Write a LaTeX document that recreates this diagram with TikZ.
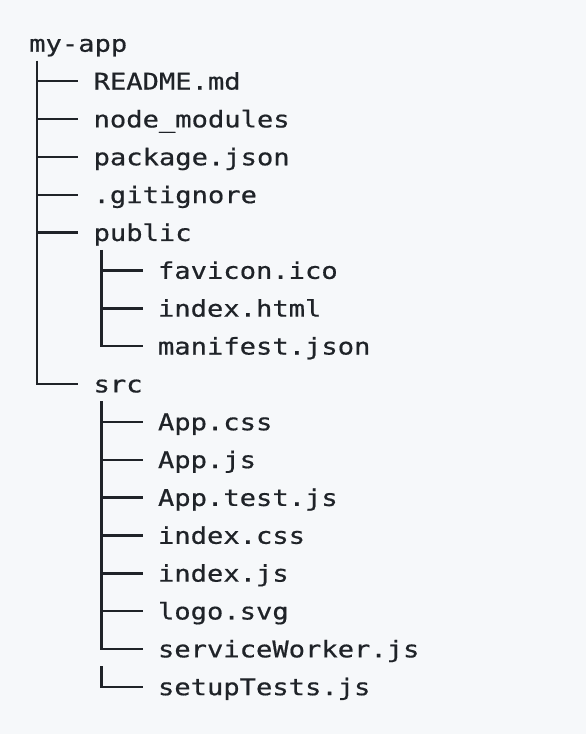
\documentclass[tikz,border=0pt]{standalone}
\usepackage{fontspec}
\newfontfamily\treefont[FakeStretch=1.18,FakeBold=0.6]{DejaVu Sans Mono}
\usetikzlibrary{positioning}
\definecolor{ink}{HTML}{1F2328}
\definecolor{paper}{HTML}{F6F8FA}
\tikzset{
  file/.style={anchor=base west, inner sep=0pt, text=ink, font=\treefont\fontsize{23}{28}\selectfont},
  branch/.style={draw=ink, line width=2.4pt}
}

\begin{document}
\begin{tikzpicture}[x=16.1pt, y=-37.85pt]
                \fill[paper] (-1.801,-1.366) rectangle (34.596,18.026);
                \node[file] (root) at (0,0) {my-app};
                \node[file] (readme) at (4,1) {README.md};
                \node[file] (modules) at (4,2) {node\_modules};
                \node[file] (pkg) at (4,3) {package.json};
                \node[file] (gitignore) at (4,4) {.gitignore};
                \node[file] (public) at (4,5) {public};
                \node[file] (favicon) at (8,6) {favicon.ico};
                \node[file] (indexhtml) at (8,7) {index.html};
                \node[file] (manifest) at (8,8) {manifest.json};
                \node[file] (src) at (4,9) {src};
                \node[file] (appcss) at (8,10) {App.css};
                \node[file] (appjs) at (8,11) {App.js};
                \node[file] (apptest) at (8,12) {App.test.js};
                \node[file] (indexcss) at (8,13) {index.css};
                \node[file] (indexjs) at (8,14) {index.js};
                \node[file] (logo) at (8,15) {logo.svg};
                \node[file] (worker) at (8,16) {serviceWorker.js};
                \node[file] (setup) at (8,17) {setupTests.js};
                % my-app
                \draw[branch] ([xshift=8.05pt,yshift=-8.85pt]root.base west) |- ([xshift=-15pt,yshift=8.3pt]src.base west);
                \draw[branch] ([xshift=-56.35pt,yshift=8.3pt]readme.base west) -- ([xshift=-15pt,yshift=8.3pt]readme.base west);
                \draw[branch] ([xshift=-56.35pt,yshift=8.3pt]modules.base west) -- ([xshift=-15pt,yshift=8.3pt]modules.base west);
                \draw[branch] ([xshift=-56.35pt,yshift=8.3pt]pkg.base west) -- ([xshift=-15pt,yshift=8.3pt]pkg.base west);
                \draw[branch] ([xshift=-56.35pt,yshift=8.3pt]gitignore.base west) -- ([xshift=-15pt,yshift=8.3pt]gitignore.base west);
                \draw[branch] ([xshift=-56.35pt,yshift=8.3pt]public.base west) -- ([xshift=-15pt,yshift=8.3pt]public.base west);
                % public
                \draw[branch] ([xshift=8.05pt,yshift=-8.85pt]public.base west) |- ([xshift=-15pt,yshift=8.3pt]manifest.base west);
                \draw[branch] ([xshift=-56.35pt,yshift=8.3pt]favicon.base west) -- ([xshift=-15pt,yshift=8.3pt]favicon.base west);
                \draw[branch] ([xshift=-56.35pt,yshift=8.3pt]indexhtml.base west) -- ([xshift=-15pt,yshift=8.3pt]indexhtml.base west);
                % src
                \draw[branch] ([xshift=8.05pt,yshift=-8.85pt]src.base west) |- ([xshift=-15pt,yshift=8.3pt]worker.base west);
                \draw[branch] ([xshift=-56.35pt,yshift=8.3pt]appcss.base west) -- ([xshift=-15pt,yshift=8.3pt]appcss.base west);
                \draw[branch] ([xshift=-56.35pt,yshift=8.3pt]appjs.base west) -- ([xshift=-15pt,yshift=8.3pt]appjs.base west);
                \draw[branch] ([xshift=-56.35pt,yshift=8.3pt]apptest.base west) -- ([xshift=-15pt,yshift=8.3pt]apptest.base west);
                \draw[branch] ([xshift=-56.35pt,yshift=8.3pt]indexcss.base west) -- ([xshift=-15pt,yshift=8.3pt]indexcss.base west);
                \draw[branch] ([xshift=-56.35pt,yshift=8.3pt]indexjs.base west) -- ([xshift=-15pt,yshift=8.3pt]indexjs.base west);
                \draw[branch] ([xshift=-56.35pt,yshift=8.3pt]logo.base west) -- ([xshift=-15pt,yshift=8.3pt]logo.base west);
                \draw[branch] ([xshift=-56.35pt,yshift=29pt]setup.base west) |- ([xshift=-15pt,yshift=8.3pt]setup.base west);
            \end{tikzpicture}
\end{document}
